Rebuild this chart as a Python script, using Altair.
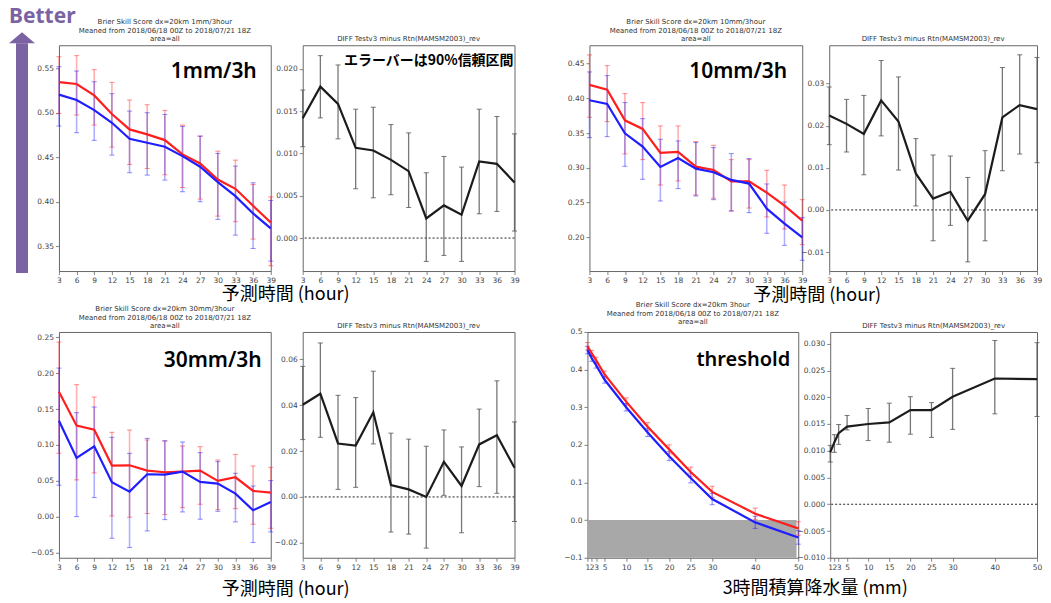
import altair as alt
import pandas as pd

# ---------------- data ----------------
hours = [3, 6, 9, 12, 15, 18, 21, 24, 27, 30, 33, 36, 39]
thresholds = [1, 2, 3, 5, 10, 15, 20, 25, 30, 40, 50]

# 1mm/3h Brier skill score
bss1_red = [0.5346, 0.5324, 0.5196, 0.4986, 0.4813, 0.4757, 0.4693, 0.4532, 0.4430, 0.4250, 0.4145, 0.3954, 0.3766]
bss1_red_hi = [0.5631, 0.5643, 0.5485, 0.5342, 0.5144, 0.5091, 0.5027, 0.4862, 0.4738, 0.4569, 0.4468, 0.4194, 0.4055]
bss1_red_lo = [0.4993, 0.4975, 0.4862, 0.4614, 0.4419, 0.4374, 0.4303, 0.4160, 0.4029, 0.3838, 0.3774, 0.3579, 0.3279]
bss1_blue = [0.5204, 0.5144, 0.5031, 0.4888, 0.4708, 0.4663, 0.4618, 0.4513, 0.4393, 0.4220, 0.4063, 0.3868, 0.3699]
bss1_blue_hi = [0.5519, 0.5470, 0.5350, 0.5215, 0.5020, 0.5001, 0.4982, 0.4847, 0.4738, 0.4543, 0.4400, 0.4213, 0.4014]
bss1_blue_lo = [0.4851, 0.4776, 0.4690, 0.4524, 0.4326, 0.4299, 0.4243, 0.4112, 0.4000, 0.3801, 0.3624, 0.3474, 0.3331]

diff1 = [0.01417, 0.01791, 0.01587, 0.01067, 0.01035, 0.00925, 0.00791, 0.00232, 0.00386, 0.00276, 0.00906, 0.00878, 0.00657]
diff1_hi = [0.0175, 0.02157, 0.02047, 0.01524, 0.01547, 0.01342, 0.01244, 0.00772, 0.00965, 0.00839, 0.01524, 0.01437, 0.01232]
diff1_lo = [0.0108, 0.01421, 0.01173, 0.00583, 0.00476, 0.00512, 0.00362, -0.00276, -0.00205, -0.00276, 0.00287, 0.00315, 0.00083]

# 10mm/3h
bss10_red = [0.4193, 0.4126, 0.3684, 0.3560, 0.3214, 0.3229, 0.3017, 0.2969, 0.2806, 0.2806, 0.2643, 0.2456, 0.2240]
bss10_red_hi = [0.4625, 0.4471, 0.4068, 0.3939, 0.3603, 0.3603, 0.3378, 0.3325, 0.3118, 0.3118, 0.2965, 0.2753, 0.2542]
bss10_red_lo = [0.3727, 0.3665, 0.3200, 0.3118, 0.2753, 0.2811, 0.2610, 0.2562, 0.2379, 0.2422, 0.2293, 0.2120, 0.1895]
bss10_blue = [0.3972, 0.3919, 0.3497, 0.3305, 0.3013, 0.3142, 0.2989, 0.2936, 0.2826, 0.2773, 0.2413, 0.2197, 0.2000]
bss10_blue_hi = [0.4380, 0.4327, 0.3939, 0.3708, 0.3411, 0.3387, 0.3363, 0.3291, 0.3205, 0.3133, 0.2768, 0.2509, 0.2283]
bss10_blue_lo = [0.3435, 0.3449, 0.3022, 0.2835, 0.2523, 0.2701, 0.2595, 0.2542, 0.2379, 0.2355, 0.2058, 0.1885, 0.1669]

diff10 = [0.02243, 0.02044, 0.01806, 0.02601, 0.02100, 0.00867, 0.00270, 0.00430, -0.00255, 0.00374, 0.02196, 0.02490, 0.02394]
diff10_hi = [0.0292, 0.02625, 0.0272, 0.03548, 0.03158, 0.01694, 0.01305, 0.01281, 0.00772, 0.01408, 0.03381, 0.03683, 0.0362]
diff10_lo = [0.0155, 0.01376, 0.00835, 0.01758, 0.00947, 0.00095, -0.00732, -0.00366, -0.01233, -0.00732, 0.00931, 0.01328, 0.01122]

# 30mm/3h
bss30_red = [0.1741, 0.1268, 0.1212, 0.0711, 0.0715, 0.0641, 0.0618, 0.0627, 0.0641, 0.0497, 0.0548, 0.0358, 0.0334]
bss30_red_hi = [0.2433, 0.1839, 0.1667, 0.1175, 0.1207, 0.1068, 0.1050, 0.0985, 0.0975, 0.0789, 0.0868, 0.0706, 0.0687]
bss30_red_lo = [0.0882, 0.0511, 0.0608, 0.0009, -0.0009, 0.0042, 0.0028, 0.0125, 0.0172, 0.0098, 0.0111, -0.0107, -0.0163]
bss30_blue = [0.1337, 0.0817, 0.0980, 0.0478, 0.0348, 0.0590, 0.0585, 0.0627, 0.0483, 0.0460, 0.0320, 0.0088, 0.0204]
bss30_blue_hi = [0.2071, 0.1449, 0.1528, 0.1105, 0.0882, 0.1091, 0.1059, 0.1040, 0.0892, 0.0766, 0.0604, 0.0427, 0.0502]
bss30_blue_lo = [0.0437, 0.0000, 0.0265, -0.0302, -0.0432, -0.0200, -0.0042, 0.0065, -0.0037, 0.0074, -0.0074, -0.0362, -0.0214]

diff30 = [0.0402, 0.0450, 0.0233, 0.0224, 0.0369, 0.0052, 0.0033, 0.0000, 0.0153, 0.0048, 0.0229, 0.0269, 0.0127]
diff30_hi = [0.0569, 0.0671, 0.0443, 0.0433, 0.0548, 0.0278, 0.0252, 0.0221, 0.0292, 0.0218, 0.0383, 0.0506, 0.0327]
diff30_lo = [0.0250, 0.0260, 0.0033, 0.0042, 0.0231, -0.0153, -0.0162, -0.0223, 0.0007, -0.0156, 0.0045, 0.0016, -0.0107]

# threshold dependence
thr_red = [0.462, 0.443, 0.425, 0.387, 0.315, 0.248, 0.188, 0.128, 0.075, 0.017, -0.022]
thr_red_hi = [0.472, 0.451, 0.433, 0.396, 0.325, 0.259, 0.200, 0.141, 0.090, 0.032, -0.004]
thr_red_lo = [0.452, 0.435, 0.417, 0.378, 0.305, 0.237, 0.176, 0.115, 0.060, 0.002, -0.040]
thr_blue = [0.452, 0.430, 0.412, 0.373, 0.300, 0.233, 0.170, 0.112, 0.056, -0.006, -0.046]
thr_blue_hi = [0.462, 0.438, 0.420, 0.382, 0.310, 0.244, 0.182, 0.125, 0.071, 0.010, -0.028]
thr_blue_lo = [0.442, 0.422, 0.404, 0.364, 0.290, 0.222, 0.158, 0.099, 0.041, -0.022, -0.064]

thr_diff = [0.0097, 0.0116, 0.0133, 0.0145, 0.0150, 0.0153, 0.0176, 0.0176, 0.0201, 0.0235, 0.0234]
thr_diff_hi = [0.0110, 0.0130, 0.0149, 0.0166, 0.0179, 0.0189, 0.0201, 0.0190, 0.0254, 0.0306, 0.0302]
thr_diff_lo = [0.0079, 0.0097, 0.0112, 0.0139, 0.0119, 0.0116, 0.0131, 0.0125, 0.0140, 0.0169, 0.0164]

# negative-skill shading in threshold panel
shade_x = [1, 49.6]
shade_y = [-0.1, 0.0]

# axis ticks
y1_ticks = [0.35, 0.40, 0.45, 0.50, 0.55]
y2_ticks = [0.000, 0.005, 0.010, 0.015, 0.020]
y3_ticks = [0.20, 0.25, 0.30, 0.35, 0.40, 0.45]
y4_ticks = [-0.01, 0.00, 0.01, 0.02, 0.03]
y5_ticks = [-0.05, 0.00, 0.05, 0.10, 0.15, 0.20, 0.25]
y6_ticks = [-0.02, 0.00, 0.02, 0.04, 0.06]
y7_ticks = [-0.1, 0.0, 0.1, 0.2, 0.3, 0.4, 0.5]
y8_ticks = [-0.010, -0.005, 0.000, 0.005, 0.010, 0.015, 0.020, 0.025, 0.030]

bss_title_1 = ["Brier Skill Score dx=20km 1mm/3hour", "Meaned from 2018/06/18 00Z to 2018/07/21 18Z", "area=all"]
bss_title_10 = ["Brier Skill Score dx=20km 10mm/3hour", "Meaned from 2018/06/18 00Z to 2018/07/21 18Z", "area=all"]
bss_title_30 = ["Brier Skill Score dx=20km 30mm/3hour", "Meaned from 2018/06/18 00Z to 2018/07/21 18Z", "area=all"]
bss_title_thr = ["Brier Skill Score dx=20km 3hour", "Meaned from 2018/06/18 00Z to 2018/07/21 18Z", "area=all"]
diff_title = "DIFF Testv3 minus Rtn(MAMSM2003)_rev"

RED = "#ff1e1e"
BLUE = "#1e1eff"
BLACK = "#1c1c1c"
PURPLE = "#7a62a3"
JP = "Noto Sans CJK JP"


def title(t):
    return alt.TitleParams(text=t, fontSize=7, font="DejaVu Sans", color="#333333",
                           fontWeight="normal", anchor="middle", offset=3, lineHeight=8.4)


def xenc(field, dom, ticks):
    return alt.X(field, type="quantitative",
                 scale=alt.Scale(domain=dom, nice=False, zero=False),
                 axis=alt.Axis(values=ticks, format="d", title=None))


def yenc(field, dom, ticks, fmt):
    return alt.Y(field, type="quantitative",
                 scale=alt.Scale(domain=dom, nice=False, zero=False),
                 axis=alt.Axis(values=ticks, format=fmt, title=None))


def bss_layers(xs, xdom, red, red_lo, red_hi, blue, blue_lo, blue_hi, ydom, yticks, fmt):
    df = pd.concat([
        pd.DataFrame({"x": xs, "v": red, "lo": red_lo, "hi": red_hi, "s": "Testv3"}),
        pd.DataFrame({"x": xs, "v": blue, "lo": blue_lo, "hi": blue_hi, "s": "Rtn"}),
    ])
    color = alt.Color("s:N", scale=alt.Scale(domain=["Testv3", "Rtn"], range=[RED, BLUE]), legend=None)
    base = alt.Chart(df)
    X = xenc("x", xdom, xs)
    bars = base.mark_rule(strokeWidth=1.6, opacity=0.35).encode(
        x=X, y=yenc("lo", ydom, yticks, fmt), y2="hi:Q", color=color)
    cap_lo = base.mark_tick(orient="horizontal", size=5, thickness=1, opacity=0.5).encode(
        x=X, y=yenc("lo", ydom, yticks, fmt), color=color)
    cap_hi = base.mark_tick(orient="horizontal", size=5, thickness=1, opacity=0.5).encode(
        x=X, y=yenc("hi", ydom, yticks, fmt), color=color)
    line = base.mark_line(strokeWidth=2.2).encode(
        x=X, y=yenc("v", ydom, yticks, fmt), color=color)
    return [bars, cap_lo, cap_hi, line]


def diff_layers(xs, xdom, vals, lo, hi, ydom, yticks, fmt):
    df = pd.DataFrame({"x": xs, "v": vals, "lo": lo, "hi": hi})
    base = alt.Chart(df)
    X = xenc("x", xdom, xs)
    zero = alt.Chart(pd.DataFrame({"z": [0.0]})).mark_rule(
        color="#222222", strokeWidth=1, strokeDash=[2, 2]).encode(y=yenc("z", ydom, yticks, fmt))
    bars = base.mark_rule(strokeWidth=1.3, color="#555555", opacity=0.8).encode(
        x=X, y=yenc("lo", ydom, yticks, fmt), y2="hi:Q")
    cap_lo = base.mark_tick(orient="horizontal", size=5, thickness=1, color="#555555", opacity=0.8).encode(
        x=X, y=yenc("lo", ydom, yticks, fmt))
    cap_hi = base.mark_tick(orient="horizontal", size=5, thickness=1, color="#555555", opacity=0.8).encode(
        x=X, y=yenc("hi", ydom, yticks, fmt))
    line = base.mark_line(strokeWidth=2.2, color=BLACK).encode(
        x=X, y=yenc("v", ydom, yticks, fmt))
    return [zero, bars, cap_lo, cap_hi, line]


def label(t, x, y, size=21, weight="normal", align="right", font="Noto Sans", color="black"):
    return alt.Chart(pd.DataFrame({"t": [t]})).mark_text(
        align=align, baseline="alphabetic", fontSize=size, fontWeight=weight, font=font, color=color
    ).encode(text="t:N", x=alt.value(x), y=alt.value(y))


# --------------- "Better" arrow (own small view left of the grid) ---------------
arrow_shaft = alt.Chart(pd.DataFrame({"a": [0]})).mark_rule(
    color=PURPLE, strokeWidth=12, strokeCap="butt").encode(
    x=alt.value(13), y=alt.value(-2), y2=alt.value(228))
arrow_head = alt.Chart(pd.DataFrame({"a": [0]})).mark_point(
    shape="M0,-0.42L1,0.42L-1,0.42Z", size=676, filled=True, opacity=1, color=PURPLE, strokeWidth=0).encode(
    x=alt.value(13), y=alt.value(-7.5))
better = alt.layer(
    arrow_shaft, arrow_head,
    label("Better", 0, -22, size=21, weight="bold", align="left", color=PURPLE),
).properties(width=40, height=226, view=alt.ViewBackground(stroke="transparent"))

# --------------- panels ---------------
hdom = [3, 39]
tdom = [1, 50]
BIG_W = 600

p1 = alt.layer(
    *bss_layers(hours, hdom, bss1_red, bss1_red_lo, bss1_red_hi, bss1_blue, bss1_blue_lo, bss1_blue_hi,
                [0.322, 0.576], y1_ticks, ".2f"),
    label("1mm/3h", 198, 33, weight=BIG_W),
    label("予測時間 (hour)", 227, 255, size=18, align="center", font=JP),
).properties(width=212, height=226, title=title(bss_title_1))

p2 = alt.layer(
    *diff_layers(hours, hdom, diff1, diff1_lo, diff1_hi, [-0.0039, 0.0228], y2_ticks, ".3f"),
    label("エラーバーは90%信頼区間", 211, 20, size=14, weight="bold", font=JP),
).properties(width=212, height=226, title=title(diff_title))

p3 = alt.layer(
    *bss_layers(hours, hdom, bss10_red, bss10_red_lo, bss10_red_hi, bss10_blue, bss10_blue_lo, bss10_blue_hi,
                [0.1515, 0.4764], y3_ticks, ".2f"),
    label("10mm/3h", 198, 33, weight=BIG_W),
    label("予測時間 (hour)", 228, 256, size=18, align="center", font=JP),
).properties(width=213, height=226, title=title(bss_title_10))

p4 = alt.layer(
    *diff_layers(hours, hdom, diff10, diff10_lo, diff10_hi, [-0.0145, 0.0391], y4_ticks, ".2f"),
).properties(width=208, height=226, title=title(diff_title))

p5 = alt.layer(
    *bss_layers(hours, hdom, bss30_red, bss30_red_lo, bss30_red_hi, bss30_blue, bss30_blue_lo, bss30_blue_hi,
                [-0.0574, 0.2574], y5_ticks, ".2f"),
    label("30mm/3h", 203, 35, weight=BIG_W),
    label("予測時間 (hour)", 227, 263, size=18, align="center", font=JP),
).properties(width=212, height=226, title=title(bss_title_30))

p6 = alt.layer(
    *diff_layers(hours, hdom, diff30, diff30_lo, diff30_hi, [-0.0265, 0.0719], y6_ticks, ".2f"),
).properties(width=212, height=226, title=title(diff_title))

shade = alt.Chart(pd.DataFrame({"x0": [shade_x[0]], "x1": [shade_x[1]], "y0": [shade_y[0]], "y1": [shade_y[1]]})).mark_rect(
    color="#a8a8a8").encode(
    x=xenc("x0", tdom, thresholds), x2="x1:Q",
    y=yenc("y0", [-0.1, 0.5], y7_ticks, ".1f"), y2="y1:Q")

p7 = alt.layer(
    shade,
    *bss_layers(thresholds, tdom, thr_red, thr_red_lo, thr_red_hi, thr_blue, thr_blue_lo, thr_blue_hi,
                [-0.1, 0.5], y7_ticks, ".1f"),
    label("threshold", 203, 34, size=20, weight=BIG_W),
    label("3時間積算降水量 (mm)", 228, 262, size=18, align="center", font=JP),
).properties(width=211, height=226, title=title(bss_title_thr))

p8 = alt.layer(
    *diff_layers(thresholds, tdom, thr_diff, thr_diff_lo, thr_diff_hi, [-0.010, 0.0322], y8_ticks, ".3f"),
).properties(width=207, height=226, title=title(diff_title))

row1 = alt.hconcat(
    alt.hconcat(p1, p2, spacing=32, bounds="flush"),
    alt.hconcat(p3, p4, spacing=27, bounds="flush"),
    spacing=531, bounds="flush")
row2 = alt.hconcat(
    alt.hconcat(p5, p6, spacing=32, bounds="flush"),
    alt.hconcat(p7, p8, spacing=32, bounds="flush"),
    spacing=529, bounds="flush")
grid = alt.vconcat(row1, row2, spacing=287, bounds="flush")

chart = alt.hconcat(better, grid, spacing=10, bounds="flush").properties(
    padding={"left": 0, "top": -3, "right": 0, "bottom": 0}, background="white"
).configure_view(
    stroke="#666666", strokeWidth=1
).configure_axis(
    labelFont="DejaVu Sans", labelFontSize=7.5, labelColor="#444444",
    tickColor="#666666", tickSize=3.5, tickWidth=0.8, domain=False, grid=False,
    labelPadding=2, labelFlush=False, labelOverlap=False, labelBound=False
)

chart.save("out.html", embed_options={"renderer": "svg", "actions": False})
